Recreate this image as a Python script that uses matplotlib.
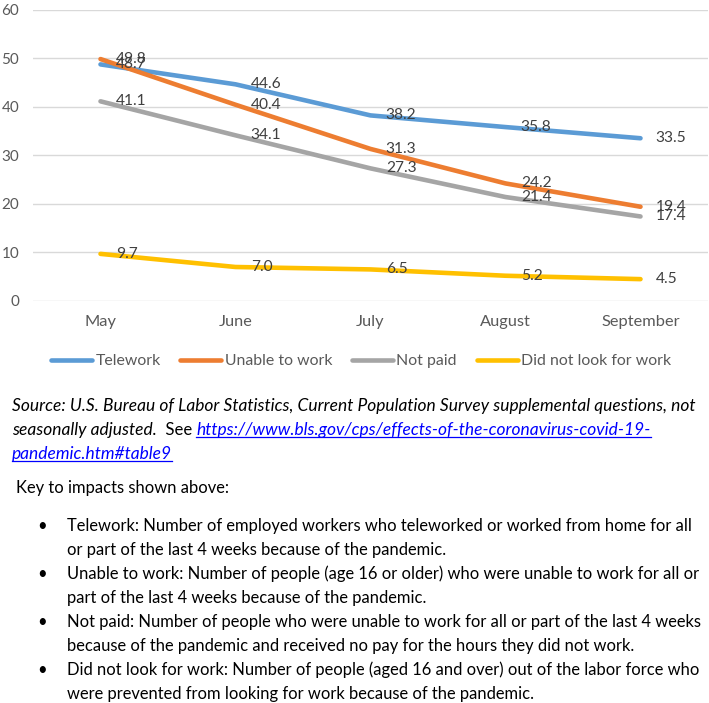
import matplotlib
matplotlib.use("Agg")
from matplotlib import pyplot as plt
from matplotlib.lines import Line2D

# data
months = ["May", "June", "July", "August", "September"]
telework = [48.7, 44.6, 38.2, 35.8, 33.5]
unable = [49.8, 40.4, 31.3, 24.2, 19.4]
not_paid = [41.1, 34.1, 27.3, 21.4, 17.4]
no_look = [9.7, 7.0, 6.5, 5.2, 4.5]
series_names = ["Telework", "Unable to work", "Not paid", "Did not look for work"]
y_ticks = [0, 10, 20, 30, 40, 50, 60]

source_1 = "Source: U.S. Bureau of Labor Statistics, Current Population Survey supplemental questions, not"
source_2 = "seasonally adjusted."
source_see = "  See "
link_1 = "https://www.bls.gov/cps/effects-of-the-coronavirus-covid-19-"
link_2 = "pandemic.htm#table9"
key_title = "Key to impacts shown above:"
key_lines = [
    ["Telework: Number of employed workers who teleworked or worked from home for all",
     "or part of the last 4 weeks because of the pandemic."],
    ["Unable to work: Number of people (age 16 or older) who were unable to work for all or",
     "part of the last 4 weeks because of the pandemic."],
    ["Not paid: Number of people who were unable to work for all or part of the last 4 weeks",
     "because of the pandemic and received no pay for the hours they did not work."],
    ["Did not look for work: Number of people (aged 16 and over) out of the labor force who",
     "were prevented from looking for work because of the pandemic."],
]

colors = ["#5B9BD5", "#ED7D31", "#A5A5A5", "#FFC000"]
FONT = "Lato"
plt.rcParams["font.family"] = [FONT, "DejaVu Sans"]

W, H = 709, 703
fig = plt.figure(figsize=(W / 100, H / 100), dpi=100)
ax = fig.add_axes([33 / W, 1 - 301 / H, 675 / W, (301 - 9.5) / H])

x = list(range(len(months)))
for vals, name, c in zip([telework, unable, not_paid, no_look], series_names, colors):
    ax.plot(x, vals, color=c, lw=3.3, solid_capstyle="round", label=name)
    for xi, v in zip(x, vals):
        ax.annotate(f"{v:.1f}", (xi, v), xytext=(11, 0), textcoords="offset points",
                    ha="left", va="center", fontsize=11.2, color="#404040")

ax.set_xlim(-0.5, len(months) - 0.5)
ax.set_ylim(0, 60)
ax.set_yticks(y_ticks)
ax.set_xticks(x)
ax.set_xticklabels(months)
ax.grid(axis="y", color="#D9D9D9", lw=1)
ax.set_axisbelow(True)
for s in ax.spines.values():
    s.set_visible(False)
ax.tick_params(axis="y", length=0, pad=10, labelsize=11, labelcolor="#595959")
ax.tick_params(axis="x", length=0, pad=10, labelsize=11.8, labelcolor="#595959")

fig.legend(loc="center", bbox_to_anchor=(361 / W, 1 - 361 / H), ncol=4, frameon=False,
           fontsize=11.4, handlelength=2.6, handletextpad=0.2, columnspacing=1.25,
           labelcolor="#595959")

# text below the chart
renderer = fig.canvas.get_renderer()


def fy(py):
    return 1 - py / H


def put(px, py, s, fs=11.9, **kw):
    t = fig.text(px / W, fy(py), s, fontsize=fs, va="center", ha="left", **kw)
    bb = t.get_window_extent(renderer)
    return t, bb


def underline(bb, color):
    y = bb.y0 + 1
    fig.add_artist(Line2D([bb.x0 / W, bb.x1 / W], [y / H, y / H], color=color, lw=0.9))


sfs = 12.5
put(12, 406, source_1, fs=sfs, style="italic", color="black")
_, bb = put(12, 430, source_2, fs=sfs, style="italic", color="black")
_, bb = put(bb.x1, 430, source_see, fs=12, color="black")
_, bb = put(bb.x1, 430, link_1, fs=sfs, style="italic", color="#0000FF")
underline(bb, "#0000FF")
_, bb = put(12, 454, link_2, fs=sfs, style="italic", color="#0000FF")
underline(bb, "#0000FF")

put(16, 488, key_title, color="black")
y0 = 526
for lines in key_lines:
    fig.text(42 / W, fy(y0), "\u2022", fontsize=12, va="center", ha="center", color="black")
    for i, ln in enumerate(lines):
        put(67, y0 + 24 * i, ln, color="black")
    y0 += 48

fig.savefig("out.png", dpi=100)
